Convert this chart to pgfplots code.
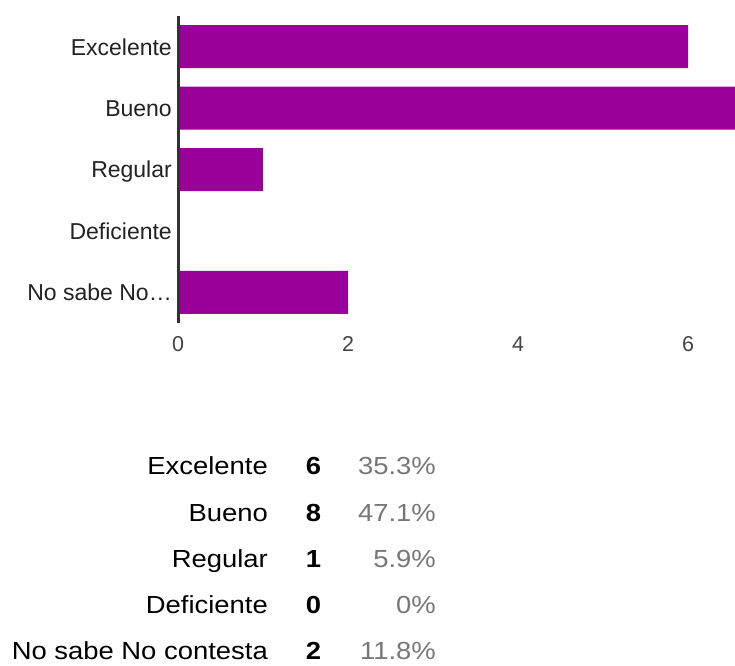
\documentclass[border=0pt]{standalone}
\usepackage{fontspec}
\setmainfont{Liberation Sans}
\newfontfamily\tabfont[FakeStretch=1.11]{Liberation Sans}
\usepackage{pgfplots}
\pgfplotsset{compat=1.18}
\usepackage{pgfplotstable}

\definecolor{barpurple}{HTML}{990099}
\definecolor{axisdark}{HTML}{333333}
\definecolor{labeldark}{HTML}{222222}
\definecolor{tickgray}{HTML}{444444}
\definecolor{pctgray}{HTML}{777777}

% respuestas por categoria (0 = arriba)
\pgfplotstableread{
pos count
0   6
1   8
2   1
3   0
4   2
}\respuestas

\begin{document}
\begin{tikzpicture}
\path (0,0) rectangle (735pt,665pt);
\begin{axis}[
    at={(178pt,342pt)}, anchor=south west,
    scale only axis,
    width=557pt, height=307pt,
    xbar, bar width=43pt,
    xmin=0, xmax=6.553,
    ymin=-0.5, ymax=4.5,
    y dir=reverse,
    axis on top,
    axis x line*=bottom,
    axis y line*=left,
    x axis line style={draw=none},
    y axis line style={draw=axisdark, line width=3pt, -},
    major tick length=0pt,
    xtick={0,2,4,6},
    ytick={0,1,2,3,4},
    yticklabels={Excelente,Bueno,Regular,Deficiente,No sabe No…},
    /pgf/number format/assume math mode=true,
    xticklabel style={font=\fontsize{21.5}{26}\selectfont, text=tickgray,
        anchor=base, inner sep=0pt, yshift=-28.7pt},
    yticklabel style={font=\fontsize{23}{28}\selectfont, text=labeldark,
        anchor=base east, inner sep=0pt, xshift=-6pt, yshift=-8.3pt},
]
\addplot[fill=barpurple, draw=none] table[x=count, y=pos] {\respuestas};
\end{axis}

% tabla resumen
\begin{scope}[every node/.style={inner sep=0pt}, font=\tabfont\fontsize{24.7}{30}\selectfont]
\foreach \lab/\n/\p/\b in {Excelente/6/35.3\%/474.5,
                          Bueno/8/47.1\%/521.5,
                          Regular/1/5.9\%/567.5,
                          Deficiente/0/0\%/613.5,
                          No sabe No contesta/2/11.8\%/659.5}{
  \node[anchor=base east] at (268pt,665pt-\b pt) {\lab};
  \node[anchor=base, font=\tabfont\fontsize{24.7}{30}\selectfont\bfseries] at (313.5pt,665pt-\b pt) {\n};
  \node[anchor=base east, text=pctgray] at (436pt,665pt-\b pt) {\p};
}
\end{scope}
\pgfresetboundingbox
\useasboundingbox (0,0) rectangle (735pt,665pt);
\end{tikzpicture}
\end{document}
